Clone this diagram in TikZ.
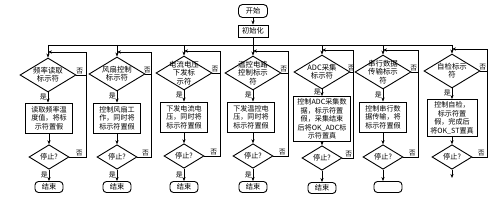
\documentclass[tikz,border=0pt]{standalone}
\usepackage{fontspec}
\setmainfont{Noto Sans CJK SC}
\usetikzlibrary{shapes.geometric,arrows.meta}
\tikzset{
  ln/.style={line width=0.9pt},
  arr/.style={ln,-{Stealth[length=4pt,width=3.2pt]}},
  dia/.style={diamond,draw,ln,minimum width=56pt,minimum height=34pt,inner sep=0pt},
  dtxt/.style={align=center,font=\fontsize{7.4}{8.2}\selectfont,inner sep=0pt},
  procbox/.style={draw,ln,align=center,font=\fontsize{7.1}{8.4}\selectfont,minimum width=47pt,minimum height=30pt,inner sep=1pt},
  stopd/.style={diamond,draw,ln,minimum width=40pt,minimum height=20pt,inner sep=0pt,font=\fontsize{7.2}{8}\selectfont},
  endb/.style={draw,ln,rounded corners=3.5pt,minimum width=28pt,minimum height=11pt,inner sep=0pt,font=\fontsize{7.2}{8}\selectfont},
  lab/.style={font=\fontsize{6.8}{7}\selectfont,inner sep=1pt}
}
\begin{document}
\begin{tikzpicture}[x=1pt,y=-1pt]
\useasboundingbox[fill=white] (0,0) rectangle (500,200);
% start and init
\node[endb,minimum width=29pt,minimum height=13pt,rounded corners=4pt] (start) at (253,11) {开始};
\node[draw,ln,minimum width=30pt,minimum height=12pt,inner sep=0pt,font=\fontsize{7.2}{8}\selectfont] (init) at (253,31) {初始化};
\draw[arr] (start) -- (init);
% top main line coordinates
\coordinate (t1) at (48,45);
\coordinate (t2) at (117,45);
\coordinate (t3) at (184,45);
\coordinate (t4) at (253,45);
\coordinate (t5) at (322,45);
\coordinate (t6) at (383,45);
\coordinate (t7) at (452,45);
\draw[ln] (init) -- (t4);
\draw[ln] (t1) -- (t7);
% junctions
\coordinate (j1) at (48,52);  \coordinate (f1) at (86,52);
\coordinate (j2) at (117,52); \coordinate (f2) at (151,52);
\coordinate (j3) at (184,51); \coordinate (f3) at (220,51);
\coordinate (j4) at (253,51); \coordinate (f4) at (288,51);
\coordinate (j5) at (322,50); \coordinate (f5) at (353,50);
\coordinate (j6) at (383,50); \coordinate (f6) at (418,50);
\coordinate (j7) at (452,49); \coordinate (f7) at (487,49);
% decision diamonds
\node[dia] (d1) at (48,75) {};
\node[dtxt] at (d1) {频率读取\\标示符};
\node[dia] (d2) at (117,74) {};
\node[dtxt] at (d2) {风扇控制\\标示符};
\node[dia] (d3) at (184,73) {};
\node[dtxt] at (d3) {电流电压\\下发标\\示符};
\node[dia] (d4) at (253,73) {};
\node[dtxt] at (d4) {温控电路\\控制标示\\符};
\node[dia] (d5) at (322,72) {};
\node[dtxt] at (d5) {ADC采集\\标示符};
\node[dia] (d6) at (383,72) {};
\node[dtxt] at (d6) {串行数据\\传输标示\\符};
\node[dia] (d7) at (452,71) {};
\node[dtxt] at (d7) {自检标示\\符};
% process boxes
\node[procbox] (b1) at (49,118) {读取频率温\\度值，将标\\示符置假};
\node[procbox] (b2) at (117,118) {控制风扇工\\作，同时将\\标示符置假};
\node[procbox] (b3) at (184,117) {下发电流电\\压，同时将\\标示符置假};
\node[procbox] (b4) at (251,117) {下发温控电\\压，同时将\\标示符置假};
\node[procbox,minimum width=57pt,minimum height=45pt] (b5) at (322,119) {控制ADC采集数\\据，标示符置\\假，采集结束\\后将OK\_ADC标\\示符置真};
\node[procbox] (b6) at (383,117) {控制串行数\\据传输，将\\标示符置假};
\node[procbox,minimum width=50pt,minimum height=37pt] (b7) at (452,118) {控制自检，\\标示符置\\假，完成后\\将OK\_ST置真};
% stop diamonds
\node[stopd] (s1) at (49,157) {停止?};
\node[stopd] (s2) at (117,157) {停止?};
\node[stopd] (s3) at (184,156) {停止?};
\node[stopd] (s4) at (253,156) {停止?};
\node[stopd] (s5) at (322,158) {停止?};
\node[stopd] (s6) at (383,157) {停止?};
\node[stopd] (s7) at (452,157) {停止?};
% end boxes
\node[endb] (e1) at (49,187) {结束};
\node[endb] (e2) at (117,187) {结束};
\node[endb] (e3) at (184,187) {结束};
\node[endb] (e4) at (253,187) {结束};
\node[endb] (e5) at (322,188) {结束};
\node[endb] (e6) at (388,187) {};
\coordinate (e7) at (452,178);
% connectors
\foreach \i in {1,...,7}{
  \draw[arr] (t\i) -- (d\i.north);
  \draw[arr] (d\i.south) -- node[lab,left,pos=0.45] {是} (b\i.north -| d\i.south);
  \draw[arr] (b\i.south -| s\i.north) -- (s\i.north);
  \draw[ln] (d\i.east) -- node[lab,above,pos=0.35] {否} (d\i.east -| f\i);
  \draw[ln] (s\i.east) -- node[lab,above,pos=0.6] {否} (s\i.east -| f\i) -- (f\i);
  \draw[arr] (f\i) -- (j\i);
}
\foreach \i in {1,...,4}{
  \draw[arr] (s\i.south) -- node[lab,left] {是} (e\i.north -| s\i.south);
}
\draw[arr] (s5.south) -- (e5.north);
\draw[arr] (s6.south) -- (e6.north -| s6.south);
\draw[arr] (s7.south) -- (e7);
\end{tikzpicture}
\end{document}
